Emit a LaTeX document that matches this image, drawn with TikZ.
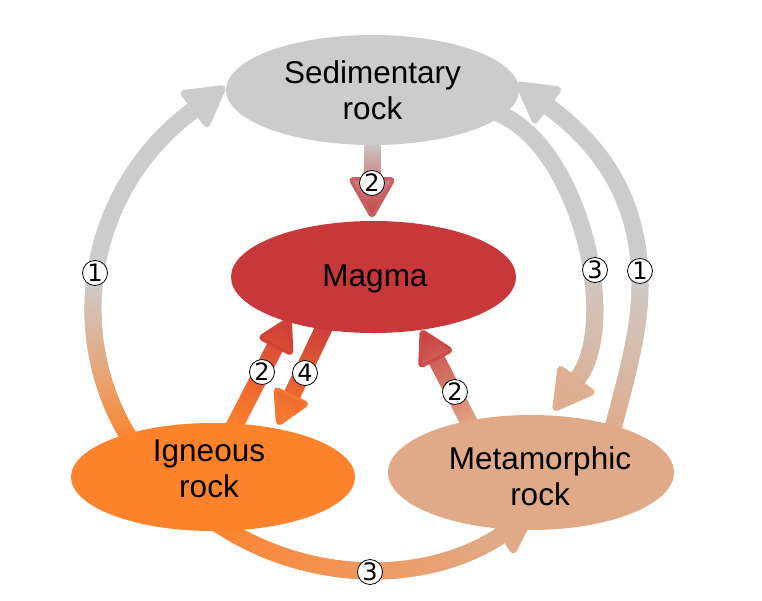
\documentclass[tikz,border=0pt]{standalone}
\usepackage{fontspec}
\setmainfont{Liberation Sans}
\newfontfamily\numfont{DejaVu Sans}
\usetikzlibrary{decorations.markings,shapes.geometric,backgrounds}

\definecolor{sedc}{HTML}{CCCCCC}
\definecolor{magc}{HTML}{C8373A}
\definecolor{ignc}{HTML}{FE832C}
\definecolor{metc}{HTML}{E0AA88}

% colour at position #5 (0..1) between #1 and #2, transition from #3 to #4
\newcommand\flowcolor[5]{%
  \pgfmathsetmacro\flowp{min(100,max(0,100*((#5)-(#3))/((#4)-(#3))))}%
  \colorlet{flowc}{#2!\flowp!#1}%
}
\newcommand\flowslice[4]{%
  \pgfmathsetmacro\flowt{\pgfkeysvalueof{/pgf/decoration/mark info/distance from start}/(\pgfdecoratedpathlength+44)}%
  \flowcolor{#1}{#2}{#3}{#4}{\flowt}%
  \fill[flowc] (-0.4pt,-8.5pt) rectangle (1.4pt,8.5pt);%
}
\newcommand\flowhead[5]{%
  \pgfmathsetmacro\flowlen{\pgfdecoratedpathlength}%
  \pgfmathsetmacro\flowt{(\flowlen+22)/(\flowlen+44)}%
  \flowcolor{#1}{#2}{#3}{#4}{\flowt}%
  \begin{scope}[scale=#5]%
  \filldraw[flowc,line join=round,line width=7pt] (3.5pt,-19pt) -- (36.9pt,0pt) -- (3.5pt,19pt) -- cycle;%
  \foreach \k in {0,...,16}{%
    \pgfmathsetmacro\xa{3.5+2*\k}%
    \pgfmathsetmacro\xb{min(36.9,\xa+2.4)}%
    \pgfmathsetmacro\ha{19*(36.9-\xa)/33.4}%
    \pgfmathsetmacro\hb{19*(36.9-\xb)/33.4}%
    \pgfmathsetmacro\flowt{(\flowlen+\xa+1)/(\flowlen+44)}%
    \flowcolor{#1}{#2}{#3}{#4}{\flowt}%
    \fill[flowc] (\xa pt,-\ha pt) -- (\xb pt,-\hb pt) -- (\xb pt,\hb pt) -- (\xa pt,\ha pt) -- cycle;%
  }%
  \end{scope}%
}

\tikzset{
  flowarrow/.style n args={5}{
    postaction={decorate,decoration={markings,
      mark=between positions 0 and 1 step 1pt with {\flowslice{#1}{#2}{#3}{#4}}}},
    postaction={decorate,decoration={markings,
      mark=at position 0.9999 with {\flowhead{#1}{#2}{#3}{#4}{#5}}}}
  },
  blob/.style={ellipse, inner sep=0pt, draw=none},
  rocktext/.style={align=center, font=\fontsize{31.5}{36}\selectfont, inner sep=0pt},
  num/.style={circle, draw=black, line width=0.8pt, fill=white, inner sep=0pt,
    minimum size=25pt, font=\numfont\fontsize{24}{24}\selectfont}
}

\begin{document}
\begin{tikzpicture}[x=1pt,y=-1pt]
\useasboundingbox (0,0) rectangle (762,600);

% rock ellipses
\node[blob, fill=sedc, minimum width=293pt, minimum height=110pt] (sed) at (372.5,90) {};
\node[blob, fill=magc, minimum width=285pt, minimum height=112pt] (mag) at (373.5,277) {};
\node[blob, fill=ignc, minimum width=284pt, minimum height=108pt] (ign) at (213,477) {};
\node[blob, fill=metc, minimum width=286pt, minimum height=115pt] (met) at (531,472.5) {};

\node[rocktext] (sedtxt) at (372.5,90.5) {Sedimentary\\rock};
\node[rocktext] (magtxt) at (375,279) {Magma};
\node[rocktext] (igntxt) at (209,469) {Igneous\\rock};
\node[rocktext] (mettxt) at (540,476.5) {Metamorphic\\rock};

% connector end points
\coordinate (a1s) at (132.8,443.5);
\coordinate (b1s) at (610,440);
\coordinate (b1m) at (640,285);
\coordinate (b1e) at (549,107);
\coordinate (c1s) at (495,112);
\coordinate (c1e) at (578,378);
\coordinate (d1s) at (212,520);
\coordinate (d1e) at (500,536);
\coordinate (e1s) at (372,140);
\coordinate (e1e) at (372,177);
\coordinate (f1s) at (232.5,429.5);
\coordinate (f1e) at (275,347);
\coordinate (g1s) at (330,315);
\coordinate (g1e) at (292,395);
\coordinate (h1s) at (473,430);
\coordinate (h1e) at (436.5,359.5);

\begin{pgfonlayer}{background}
  % igneous -> sedimentary (1)
  \path[flowarrow={ignc}{sedc}{0}{0.4}{1}] (a1s) arc[start angle=147, end angle=233.4, radius=247];
  % metamorphic -> sedimentary (1)
  \path[flowarrow={metc}{sedc}{0}{0.42}{1}] (b1s) .. controls (622,391.5) and (640,337) .. (b1m)
     .. controls (640,195) and (597,143) .. (b1e);
  % sedimentary -> metamorphic (3)
  \path[flowarrow={sedc}{metc}{0.5}{1}{1}] (c1s) .. controls (580,143) and (620,322) .. (c1e);
  % igneous -> metamorphic (3)
  \path[flowarrow={ignc}{metc}{0}{0.85}{1}] (d1s) .. controls (305,585) and (425,585) .. (d1e);
  % sedimentary -> magma (2)
  \path[flowarrow={sedc}{magc}{0}{1}{1}] (e1s) -- (e1e);
  % igneous -> magma (2)
  \path[flowarrow={ignc}{magc}{0}{1}{0.8}] (f1s) -- (f1e);
  % magma -> igneous (4)
  \path[flowarrow={magc}{ignc}{0}{1}{0.8}] (g1s) -- (g1e);
  % metamorphic -> magma (2)
  \path[flowarrow={metc}{magc}{0}{1}{0.8}] (h1s) -- (h1e);
\end{pgfonlayer}

% step numbers
\node[num] (n1) at (95,273) {1};
\node[num] (n2) at (595,270) {3};
\node[num] (n3) at (640,271) {1};
\node[num] (n4) at (372,183) {2};
\node[num] (n5) at (262,372) {2};
\node[num] (n6) at (305,373) {4};
\node[num] (n7) at (455,392) {2};
\node[num] (n8) at (370,572) {3};
\end{tikzpicture}
\end{document}
